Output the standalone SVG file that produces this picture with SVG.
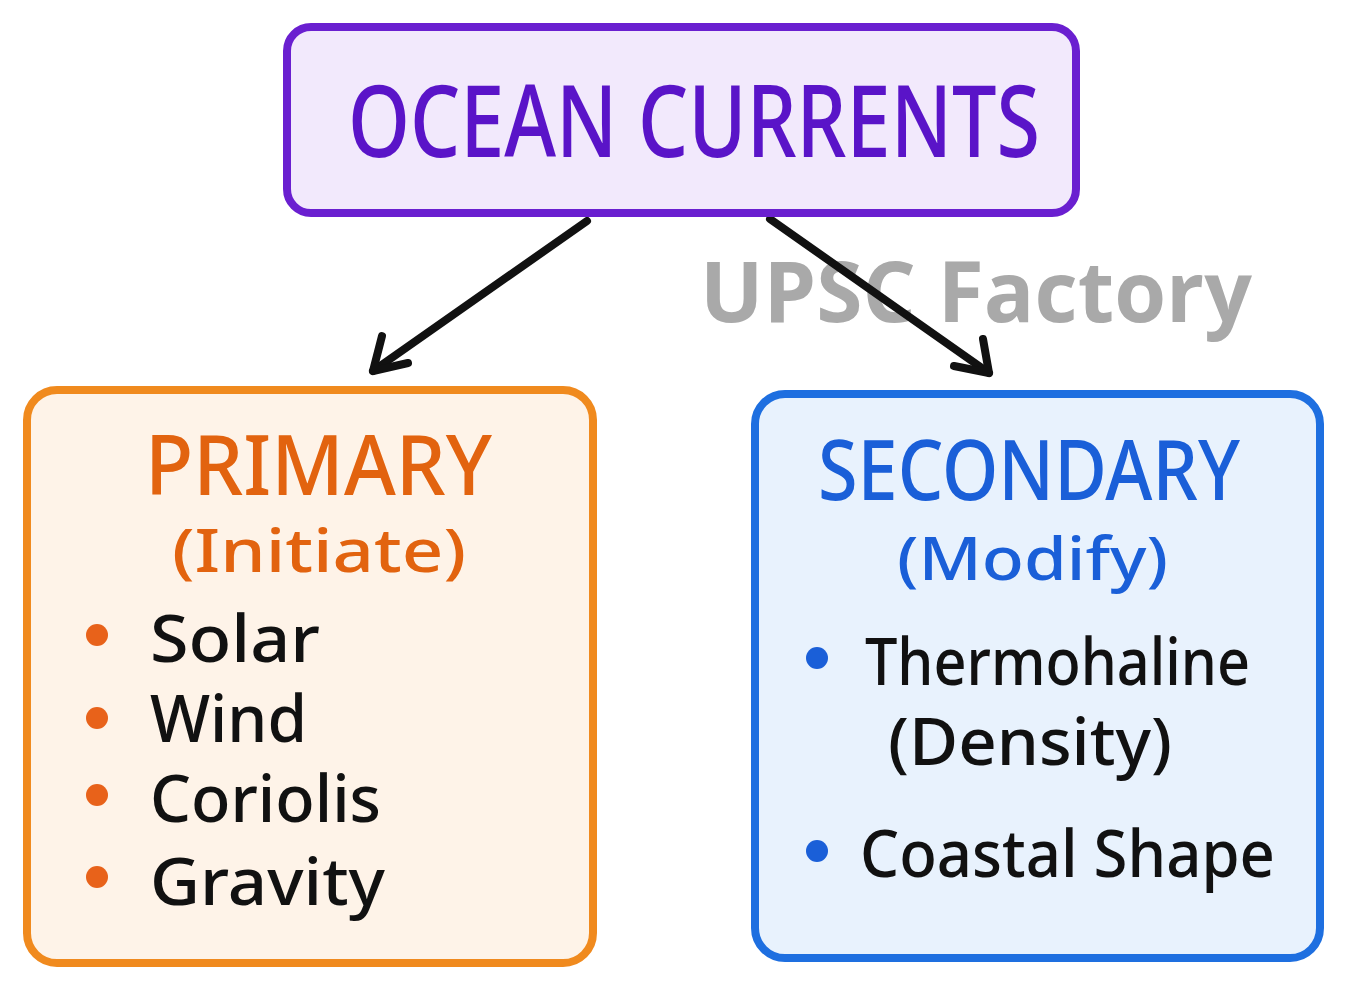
<svg xmlns="http://www.w3.org/2000/svg" width="1350" height="991" viewBox="0 0 1350 991">
<style>
.t{font-family:"Noto Sans","DejaVu Sans",sans-serif;font-weight:500}
.title{font-size:100px;fill:#5A14C8}
.head{font-size:84px}
.sub{font-size:60px}
.item{font-size:66px;fill:#111}
.wm{font-family:"Open Sans","Liberation Sans",sans-serif;font-weight:700;font-size:84px;fill:#A9A9A9}
.conn{stroke:#111;stroke-width:8;stroke-linecap:round;stroke-linejoin:round;fill:none}
</style>
<rect width="1350" height="991" fill="#FFFFFF"/>
<text class="wm" x="700" y="322" textLength="552" lengthAdjust="spacingAndGlyphs">UPSC Factory</text>
<g id="connectors">
<path class="conn" d="M587,221 L373,371"/>
<path class="conn" d="M382,336 L373,371 L408,363"/>
<path class="conn" d="M770,219 L989,373"/>
<path class="conn" d="M954,366 L989,373 L983,339"/>
</g>
<g id="ocean-currents">
<rect x="287" y="27" width="789" height="186" rx="24" fill="#F2E9FC" stroke="#6A1FD0" stroke-width="8"/>
<text class="t title" x="348" y="157" textLength="692" lengthAdjust="spacingAndGlyphs">OCEAN  CURRENTS</text>
</g>
<g id="primary">
<rect x="27" y="390" width="566" height="573" rx="30" fill="#FEF3E8" stroke="#F08A1E" stroke-width="8"/>
<text class="t head" x="145" y="495" fill="#E2630F" textLength="347" lengthAdjust="spacingAndGlyphs">PRIMARY</text>
<text class="t sub" x="172" y="572" fill="#E2630F" textLength="294" lengthAdjust="spacingAndGlyphs">(Initiate)</text>
<g fill="#E8621A">
<circle cx="97" cy="635" r="11"/>
<circle cx="97" cy="718" r="11"/>
<circle cx="97" cy="795" r="11"/>
<circle cx="97" cy="877" r="11"/>
</g>
<text class="t item" x="150" y="662" textLength="170" lengthAdjust="spacingAndGlyphs">Solar</text>
<text class="t item" x="150" y="742" textLength="157" lengthAdjust="spacingAndGlyphs">Wind</text>
<text class="t item" x="150" y="822" textLength="231" lengthAdjust="spacingAndGlyphs">Coriolis</text>
<text class="t item" x="150" y="905" textLength="235" lengthAdjust="spacingAndGlyphs">Gravity</text>
</g>
<g id="secondary">
<rect x="755" y="394" width="565" height="564" rx="30" fill="#E8F2FD" stroke="#1E6FE0" stroke-width="8"/>
<text class="t head" x="818" y="500" fill="#1A5FD8" textLength="422" lengthAdjust="spacingAndGlyphs">SECONDARY</text>
<text class="t sub" x="897" y="580" fill="#1A5FD8" textLength="271" lengthAdjust="spacingAndGlyphs">(Modify)</text>
<g fill="#1A5FD8">
<circle cx="817" cy="658" r="11"/>
<circle cx="817" cy="851" r="11"/>
</g>
<text class="t item" x="865" y="685" textLength="385" lengthAdjust="spacingAndGlyphs">Thermohaline</text>
<text class="t item" x="888" y="765" textLength="284" lengthAdjust="spacingAndGlyphs">(Density)</text>
<text class="t item" x="860" y="877" textLength="415" lengthAdjust="spacingAndGlyphs">Coastal Shape</text>
</g>
</svg>
